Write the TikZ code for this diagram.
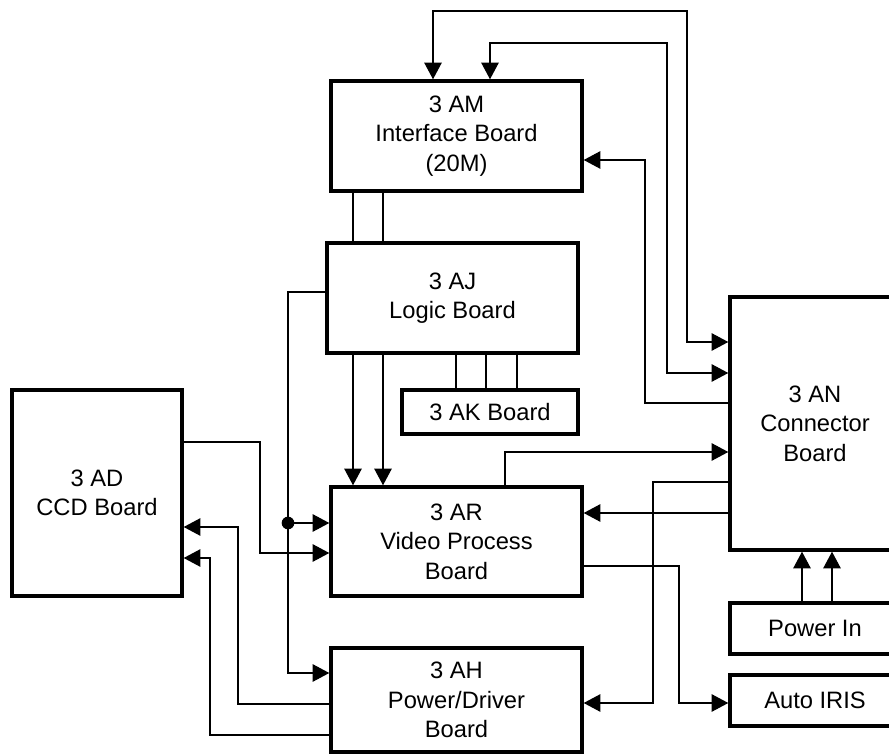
\documentclass[tikz,border=0pt]{standalone}
\usepackage{fontspec}
\setmainfont{Liberation Sans}
\usetikzlibrary{arrows.meta}
\tikzset{
  board/.style={draw, line width=2pt, inner sep=0pt, align=center,
    font=\fontsize{13.5}{16.8}\selectfont},
  wire/.style={line width=0.6pt},
  arr/.style={-{Triangle[length=9.5pt,width=10pt]}},
  dbl/.style={{Triangle[length=9.5pt,width=10pt]}-{Triangle[length=9.5pt,width=10pt]}}
}
\begin{document}
\begin{tikzpicture}[x=0.02cm, y=-0.02cm]
\clip (0,0) rectangle (889,756);
% boards
\node[board, minimum width=5.02cm, minimum height=2.2cm] (am) at (456.5,136) {3 AM\\Interface Board\\(20M)};
\node[board, minimum width=5.02cm, minimum height=2.2cm] (aj) at (452.5,298) {3 AJ\\Logic Board};
\node[board, minimum width=3.52cm, minimum height=0.88cm] (ak) at (490,412) {3 AK Board};
\node[board, minimum width=3.4cm, minimum height=4.12cm] (ad) at (97,493) {3 AD\\CCD Board};
\node[board, minimum width=5.02cm, minimum height=2.18cm] (ar) at (456.5,541.5) {3 AR\\Video Process\\Board};
\node[board, minimum width=5.02cm, minimum height=2.08cm] (ah) at (456.5,700) {3 AH\\Power/Driver\\Board};
\node[board, minimum width=3.4cm, minimum height=5.06cm] (an) at (815,423.5) {3 AN\\Connector\\Board};
\node[board, minimum width=3.4cm, minimum height=1.02cm] (pin) at (815,628.5) {Power In};
\node[board, minimum width=3.4cm, minimum height=1.02cm] (iris) at (815,700.5) {Auto IRIS};
% buses between boards
\foreach \x in {353,383} \draw[wire] (\x,0 |- am.south) -- (\x,0 |- aj.north);
\foreach \x in {353,383} \draw[wire,arr] (\x,0 |- aj.south) -- (\x,0 |- ar.north);
\foreach \x in {456,486,517} \draw[wire] (\x,0 |- aj.south) -- (\x,0 |- ak.north);
\foreach \x in {802,832} \draw[wire,arr] (\x,0 |- pin.north) -- (\x,0 |- an.south);
% interface and connector board
\draw[wire,dbl] (433,0 |- am.north) |- (687,11) |- (an.west |- 0,342);
\draw[wire,dbl] (490,0 |- am.north) |- (667,43) |- (an.west |- 0,373);
\draw[wire,arr] (an.west |- 0,403) -| (645,160) -- (am.east |- 0,160);
\draw[wire,arr] (505,0 |- ar.north) |- (an.west |- 0,452);
\draw[wire,arr] (an.west |- 0,513) -- (ar.east |- 0,513);
\draw[wire,arr] (an.west |- 0,482) -| (653,703) -- (ah.east |- 0,703);
\draw[wire,arr] (ar.east |- 0,566) -| (679,703) -- (iris.west |- 0,703);
% left side
\coordinate (tap) at (288,523);
\draw[wire,arr] (aj.west |- 0,292) -| (288,673) -- (ah.west |- 0,673);
\fill (tap) circle (3.6pt);
\draw[wire,arr] (tap) -- (ar.west |- tap);
\draw[wire,arr] (ad.east |- 0,442) -| (260,553) -- (ar.west |- 0,553);
\draw[wire,arr] (ah.west |- 0,704) -| (238,527) -- (ad.east |- 0,527);
\draw[wire,arr] (ah.west |- 0,735) -| (210,558) -- (ad.east |- 0,558);
\end{tikzpicture}
\end{document}
